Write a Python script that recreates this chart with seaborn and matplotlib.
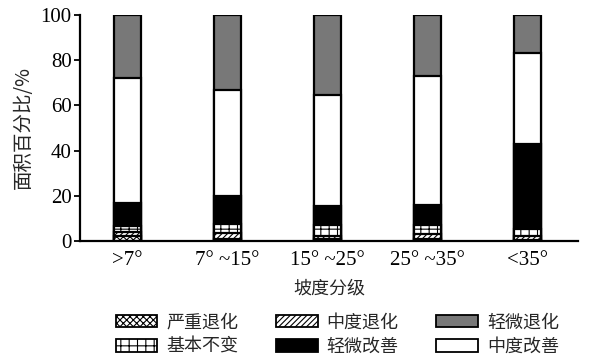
import matplotlib
matplotlib.use("Agg")
import matplotlib.pyplot as plt
import seaborn as sns
import numpy as np
import pandas as pd
from matplotlib.patches import Patch

# Slope classes and area share (%) of each change class, bottom to top in the stack
slopes = [">7°", "7° ~15°", "15° ~25°", "25° ~35°", "<35°"]
severe_deg = [2, 1, 1, 1, 0.5]          # 严重退化
moderate_deg = [2, 2.5, 1, 2, 1.5]      # 中度退化
stable = [2.5, 4, 5, 4, 3.5]            # 基本不变
slight_imp = [10.5, 12.5, 8.5, 9, 37.5] # 轻微改善
moderate_imp = [55, 47, 49, 57, 40]     # 中度改善
slight_deg = [28, 33, 35.5, 27, 17]     # 轻微退化

sns.set_theme(style="ticks")
plt.rcParams["font.family"] = ["Liberation Serif", "Noto Sans CJK SC"]
plt.rcParams["hatch.linewidth"] = 0.8
cjk = ["Noto Sans CJK SC", "DejaVu Sans"]

layers = [
    ("严重退化", severe_deg, "white", "xxxxx"),
    ("中度退化", moderate_deg, "white", "//////"),
    ("基本不变", stable, "white", "++"),
    ("轻微改善", slight_imp, "black", None),
    ("中度改善", moderate_imp, "white", None),
    ("轻微退化", slight_deg, "#787878", None),
]

fig = plt.figure(figsize=(5.97, 3.58), dpi=100)
ax = fig.add_axes([0.134, 0.327, 0.834, 0.631])

# Stack by drawing cumulative totals from the top layer downwards
cum = np.cumsum(np.array([l[1] for l in layers]), axis=0)
for i in range(len(layers) - 1, -1, -1):
    name, _, fc, hatch = layers[i]
    df = pd.DataFrame({"slope": slopes, "value": cum[i]})
    sns.barplot(data=df, x="slope", y="value", ax=ax, color=fc, saturation=1,
                width=0.27, edgecolor="black", linewidth=1.6, hatch=hatch,
                errorbar=None)

ax.set_xlim(-0.47, 4.5)
ax.set_ylim(0, 100)
ax.set_yticks([0, 20, 40, 60, 80, 100])
sns.despine(ax=ax)
for s in ["left", "bottom"]:
    ax.spines[s].set_linewidth(1.6)
    ax.spines[s].set_color("black")
ax.tick_params(axis="y", direction="out", length=4, width=1.3, labelsize=15,
               colors="black", pad=2)
ax.tick_params(axis="x", length=0, labelsize=15, colors="black", pad=7)
ax.set_ylabel("面积百分比/%", fontsize=14, family=cjk, labelpad=5)
ax.set_xlabel("坡度分级", fontsize=13, family=cjk, labelpad=7)

order = [0, 2, 1, 3, 5, 4]
handles = []
for j in order:
    name, _, fc, hatch = layers[j]
    handles.append(Patch(facecolor=fc, edgecolor="black", hatch=hatch,
                         linewidth=1.3, label=name))
fig.legend(handles=handles, ncol=3, loc="center", bbox_to_anchor=(0.565, 0.066),
           frameon=False, prop={"family": cjk, "size": 13},
           handlelength=2.3, handleheight=0.7, handletextpad=0.5,
           columnspacing=2.1, labelspacing=0.35)

fig.savefig("out.png", dpi=100)
